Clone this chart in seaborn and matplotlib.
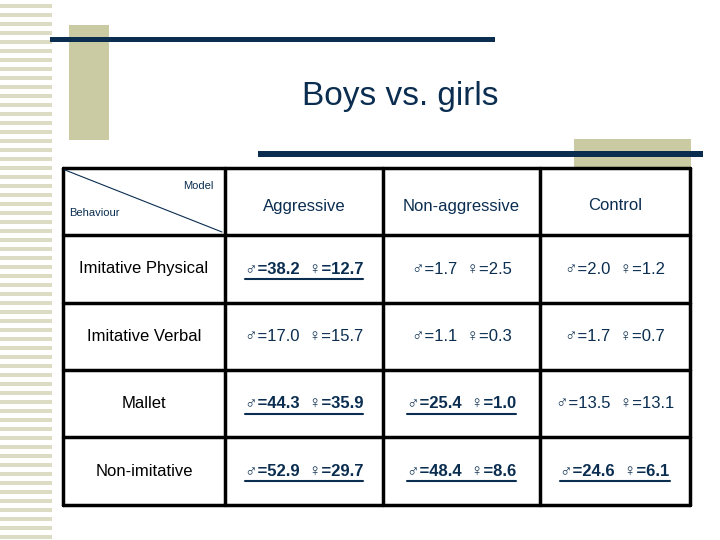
import matplotlib
matplotlib.use("Agg")
import matplotlib.pyplot as plt
import seaborn as sb
from matplotlib.patches import Rectangle

sb.set_style("white")
plt.rcParams['font.family'] = ['Liberation Sans', 'DejaVu Sans']

titlu = "Boys vs. girls"
coloane = ["Aggressive", "Non-aggressive", "Control"]
randuri = ["Imitative Physical", "Imitative Verbal", "Mallet", "Non-imitative"]
baieti = [[38.2, 1.7, 2.0], [17.0, 1.1, 1.7], [44.3, 25.4, 13.5], [52.9, 48.4, 24.6]]
fete = [[12.7, 2.5, 1.2], [15.7, 0.3, 0.7], [35.9, 1.0, 13.1], [29.7, 8.6, 6.1]]
evidentiat = [[True, False, False], [False, False, False],
              [True, True, False], [True, True, True]]

navy = "#0a2d50"
bej = "#cbcba3"

fig = plt.figure(figsize=(7.2, 5.4), dpi=100)
ax = fig.add_axes([0, 0, 1, 1])
ax.set_xlim(0, 720)
ax.set_ylim(540, 0)
ax.axis("off")

# decor: dungi stanga
for y in range(4, 540, 9):
    ax.add_patch(Rectangle((0, y), 52, 4, color="#dcdcc4", lw=0))
ax.add_patch(Rectangle((69, 25), 40, 115, color=bej, lw=0))
ax.add_patch(Rectangle((574, 139), 117, 29, color=bej, lw=0))
ax.add_patch(Rectangle((50, 37), 445, 5, color=navy, lw=0))
ax.add_patch(Rectangle((258, 151), 445, 6, color=navy, lw=0))

ax.text(400, 96, titlu, fontsize=24, ha="center", va="center", color=navy)

# tabel
x_lin = [63, 225, 383, 540, 690]
y_lin = [168, 235, 303, 370, 437, 505]
for x in x_lin:
    ax.plot([x, x], [y_lin[0], y_lin[-1]], color="black", lw=2.5)
for y in y_lin:
    ax.plot([x_lin[0], x_lin[-1]], [y, y], color="black", lw=2.5)
ax.plot([65, 222], [170, 232], color=navy, lw=0.8)
ax.text(214, 186, "Model", fontsize=8, ha="right", va="center", color=navy)
ax.text(69, 213, "Behaviour", fontsize=8, ha="left", va="center", color=navy)

for j, c in enumerate(coloane):
    ax.text((x_lin[j + 1] + x_lin[j + 2]) / 2, 206, c, fontsize=12,
            ha="center", va="center", color=navy)

fig.canvas.draw()
r = fig.canvas.get_renderer()
inv = ax.transData.inverted()
for i, rand in enumerate(randuri):
    yc = (y_lin[i + 1] + y_lin[i + 2]) / 2
    ax.text((x_lin[0] + x_lin[1]) / 2, yc, rand, fontsize=12, ha="center",
            va="center", color="black")
    for j in range(3):
        s = "♂=%.1f  ♀=%.1f" % (baieti[i][j], fete[i][j])
        t = ax.text((x_lin[j + 1] + x_lin[j + 2]) / 2, yc, s, fontsize=12,
                    ha="center", va="center", color=navy,
                    fontweight="bold" if evidentiat[i][j] else "normal")
        if evidentiat[i][j]:
            bb = t.get_window_extent(r)
            (x0, _), (x1, _) = inv.transform([(bb.x0, bb.y0), (bb.x1, bb.y0)])
            ax.plot([x0, x1], [yc + 10, yc + 10], color=navy, lw=1.5)

fig.savefig("out.png", dpi=100)
